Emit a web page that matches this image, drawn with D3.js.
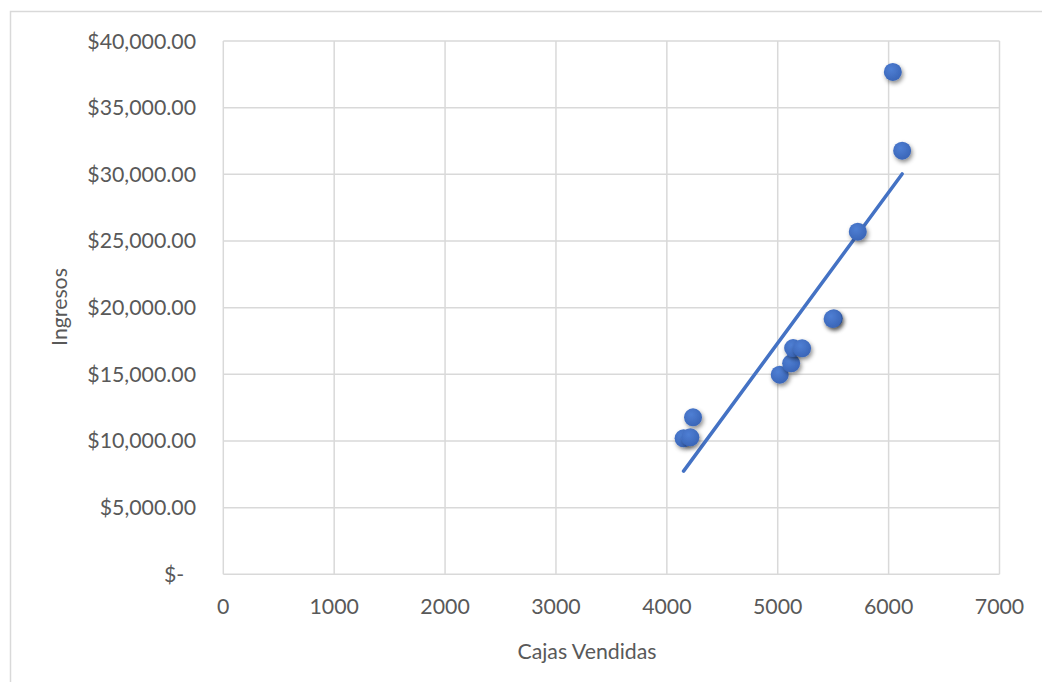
<!DOCTYPE html>
<html>
<head>
<meta charset="utf-8">
<script src="https://cdn.jsdelivr.net/npm/d3@7"></script>
<style>
body { margin: 0; background: #fff; }
text { font-family: Lato, "Noto Sans", sans-serif; fill: #595959; }
</style>
</head>
<body>
<script>
// Cajas vendidas vs ingresos

var cajas = [4236, 4151, 4212, 5018, 5121, 5139, 5220, 5505, 5495, 6038, 6122, 5722];
var ingresos = [11776, 10200, 10276, 14972, 15826, 16974, 16950, 19200, 19150, 37676, 31770, 25700];
var xTicks = [0, 1000, 2000, 3000, 4000, 5000, 6000, 7000];
var yTicks = [0, 5000, 10000, 15000, 20000, 25000, 30000, 35000, 40000];

var width = 1042;
var height = 682;

var svg = d3.select("body").append("svg")
    .attr("width", width)
    .attr("height", height);

// chart border
svg.append("rect")
    .attr("x", 10.5)
    .attr("y", 11.5)
    .attr("width", 1040)
    .attr("height", 680)
    .attr("fill", "#fff")
    .attr("stroke", "#d9d9d9")
    .attr("stroke-width", 1.5);

var x = d3.scaleLinear().domain([0, 7000]).range([223.3, 999.5]);
var y = d3.scaleLinear().domain([0, 40000]).range([574.3, 41]);

var grid = svg.append("g");

grid.selectAll(".vg")
    .data(xTicks)
    .enter().append("line")
    .attr("x1", function(d){ return x(d); })
    .attr("x2", function(d){ return x(d); })
    .attr("y1", y(0))
    .attr("y2", y(40000))
    .attr("stroke", "#d9d9d9")
    .attr("stroke-width", 1.5);

grid.selectAll(".hg")
    .data(yTicks)
    .enter().append("line")
    .attr("x1", x(0))
    .attr("x2", x(7000))
    .attr("y1", function(d){ return y(d); })
    .attr("y2", function(d){ return y(d); })
    .attr("stroke", "#d9d9d9")
    .attr("stroke-width", 1.5);

// tick labels
var fmt = d3.format("$,.2f");
svg.selectAll(".yl")
    .data(yTicks)
    .enter().append("text")
    .attr("x", function(d){ return d == 0 ? 164 : 196; })
    .attr("y", function(d){ return y(d) + 7.5; })
    .attr("text-anchor", function(d){ return d == 0 ? "start" : "end"; })
    .attr("font-size", 21.3)
    .text(function(d){ return d == 0 ? "$-" : fmt(d); });

svg.selectAll(".xl")
    .data(xTicks)
    .enter().append("text")
    .attr("x", function(d){ return x(d); })
    .attr("y", 614)
    .attr("text-anchor", "middle")
    .attr("font-size", 21.3)
    .text(function(d){ return d; });

// axis titles
svg.append("text")
    .attr("transform", "translate(67,307) rotate(-90)")
    .attr("text-anchor", "middle")
    .attr("font-size", 21.3)
    .text("Ingresos");

svg.append("text")
    .attr("x", 587)
    .attr("y", 659)
    .attr("text-anchor", "middle")
    .attr("font-size", 21.3)
    .text("Cajas Vendidas");

// linear trend line (least squares)
var mx = d3.mean(cajas), my = d3.mean(ingresos);
var sxy = 0, sxx = 0;
for (var i = 0; i < cajas.length; i++) {
    sxy += (cajas[i] - mx) * (ingresos[i] - my);
    sxx += (cajas[i] - mx) * (cajas[i] - mx);
}
var slope = sxy / sxx;
var icpt = my - slope * mx;
var x0 = d3.min(cajas), x1 = d3.max(cajas);

svg.append("line")
    .attr("x1", x(x0))
    .attr("y1", y(icpt + slope * x0))
    .attr("x2", x(x1))
    .attr("y2", y(icpt + slope * x1))
    .attr("stroke", "#4472c4")
    .attr("stroke-width", 3.5)
    .attr("stroke-linecap", "round");

// points with shadow
var defs = svg.append("defs");
var grad = defs.append("radialGradient")
    .attr("id", "pg")
    .attr("cx", "40%").attr("cy", "35%").attr("r", "65%");
grad.append("stop").attr("offset", "0%").attr("stop-color", "#4f7fd4");
grad.append("stop").attr("offset", "100%").attr("stop-color", "#3a66b8");

var flt = defs.append("filter")
    .attr("id", "sh")
    .attr("x", "-60%").attr("y", "-60%").attr("width", "220%").attr("height", "220%");
flt.append("feDropShadow")
    .attr("dx", 1.5).attr("dy", 2.5)
    .attr("stdDeviation", 2.2)
    .attr("flood-color", "#000")
    .attr("flood-opacity", 0.45);

svg.selectAll(".pt")
    .data(cajas)
    .enter().append("circle")
    .attr("cx", function(d){ return x(d); })
    .attr("cy", function(d, i){ return y(ingresos[i]); })
    .attr("r", 9)
    .attr("fill", "url(#pg)")
    .attr("filter", "url(#sh)");
</script>
</body>
</html>
